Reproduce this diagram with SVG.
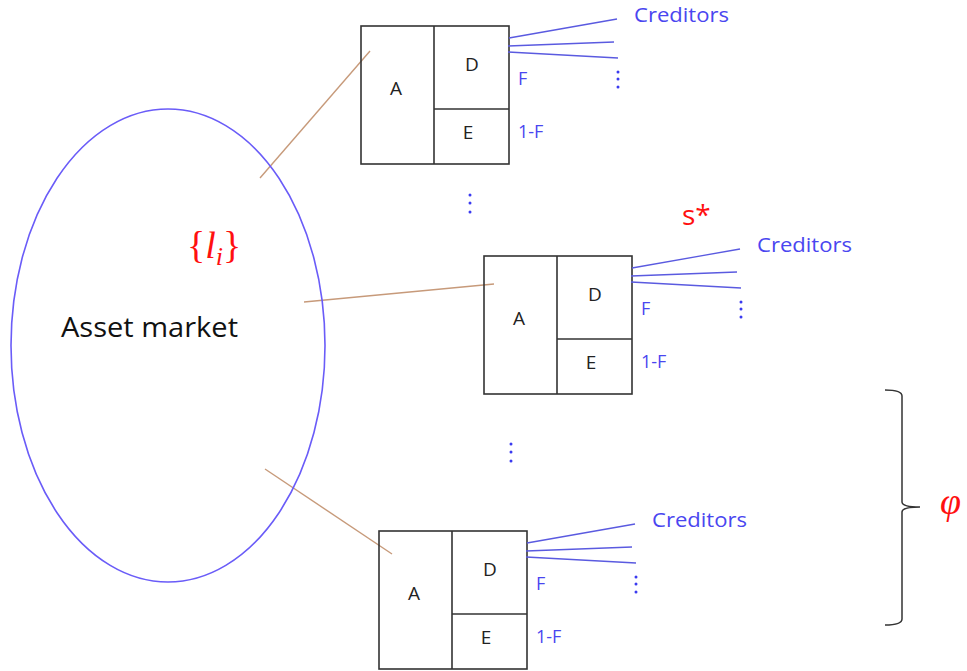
<svg xmlns="http://www.w3.org/2000/svg" width="967" height="671" viewBox="0 0 967 671">
<style>
.box{fill:none;stroke:#333;stroke-width:1.6}
.lbl{font-family:"Open Sans","Liberation Sans",sans-serif;font-size:19px;fill:#222;text-anchor:middle;dominant-baseline:central}
.blue{font-family:"Open Sans","Liberation Sans",sans-serif;fill:#4a46f0}
.cl{stroke:#5a5ae0;stroke-width:1.3;fill:none}
.br{stroke:#c79a7a;stroke-width:1.4;fill:none}
.dot{fill:#3a3af0}
.red{fill:#ff1010}
</style>
<defs>
<g id="firm">
<rect class="box" x="0" y="0" width="148" height="138"/>
<line class="box" x1="73" y1="0" x2="73" y2="138"/>
<line class="box" x1="73" y1="83" x2="148" y2="83"/>
<text class="lbl" x="35" y="62">A</text>
<text class="lbl" x="111" y="38">D</text>
<text class="lbl" x="107" y="106">E</text>
<text class="blue" x="157" y="59" font-size="18">F</text>
<text class="blue" x="157" y="112" font-size="18">1-F</text>
<line class="cl" x1="148" y1="12" x2="256" y2="-7"/>
<line class="cl" x1="147" y1="20" x2="253" y2="16"/>
<line class="cl" x1="147" y1="26" x2="257" y2="32"/>
<circle class="dot" cx="257" cy="46" r="1.5"/>
<circle class="dot" cx="257" cy="53" r="1.5"/>
<circle class="dot" cx="257" cy="61" r="1.5"/>
<text class="blue" x="273" y="-4" font-size="20" textLength="95" lengthAdjust="spacingAndGlyphs">Creditors</text>
</g>
</defs>
<g id="connectors">
<line class="br" x1="260" y1="178" x2="370" y2="51"/>
<line class="br" x1="304" y1="302" x2="494" y2="284"/>
<line class="br" x1="265" y1="469" x2="392" y2="554"/>
</g>
<g id="asset-market">
<ellipse cx="168" cy="345.5" rx="157" ry="236.5" fill="none" stroke="#6a5cf8" stroke-width="1.6"/>
<text x="61" y="337" font-family="Open Sans, Liberation Sans, sans-serif" font-size="27" fill="#111" textLength="177" lengthAdjust="spacingAndGlyphs">Asset market</text>
<text x="187" y="258" font-family="Liberation Serif, serif" font-size="38" class="red">{<tspan font-style="italic">l</tspan><tspan font-style="italic" font-size="26" dy="7">i</tspan><tspan dy="-7">}</tspan></text>
</g>
<g id="firm1"><use href="#firm" x="361" y="26"/></g>
<g id="firm2"><use href="#firm" x="484" y="256"/></g>
<g id="firm3"><use href="#firm" x="379" y="531"/></g>
<g id="dots1">
<circle class="dot" cx="470" cy="195" r="1.5"/>
<circle class="dot" cx="470" cy="203" r="1.5"/>
<circle class="dot" cx="470" cy="212" r="1.5"/>
</g>
<g id="dots2">
<circle class="dot" cx="511" cy="444" r="1.5"/>
<circle class="dot" cx="511" cy="452" r="1.5"/>
<circle class="dot" cx="511" cy="461" r="1.5"/>
</g>
<g id="sstar">
<text x="682" y="225" font-family="Open Sans, Liberation Sans, sans-serif" font-size="28" class="red">s*</text>
</g>
<g id="brace">
<path d="M885,390 Q902,390 902,396 L902,502 Q902,507 920,507 Q902,507 902,512 L902,619 Q902,625 885,625" fill="none" stroke="#333" stroke-width="1.5"/>
<text x="940" y="514" font-family="Liberation Serif, serif" font-style="italic" font-size="38" class="red">φ</text>
</g>
</svg>
